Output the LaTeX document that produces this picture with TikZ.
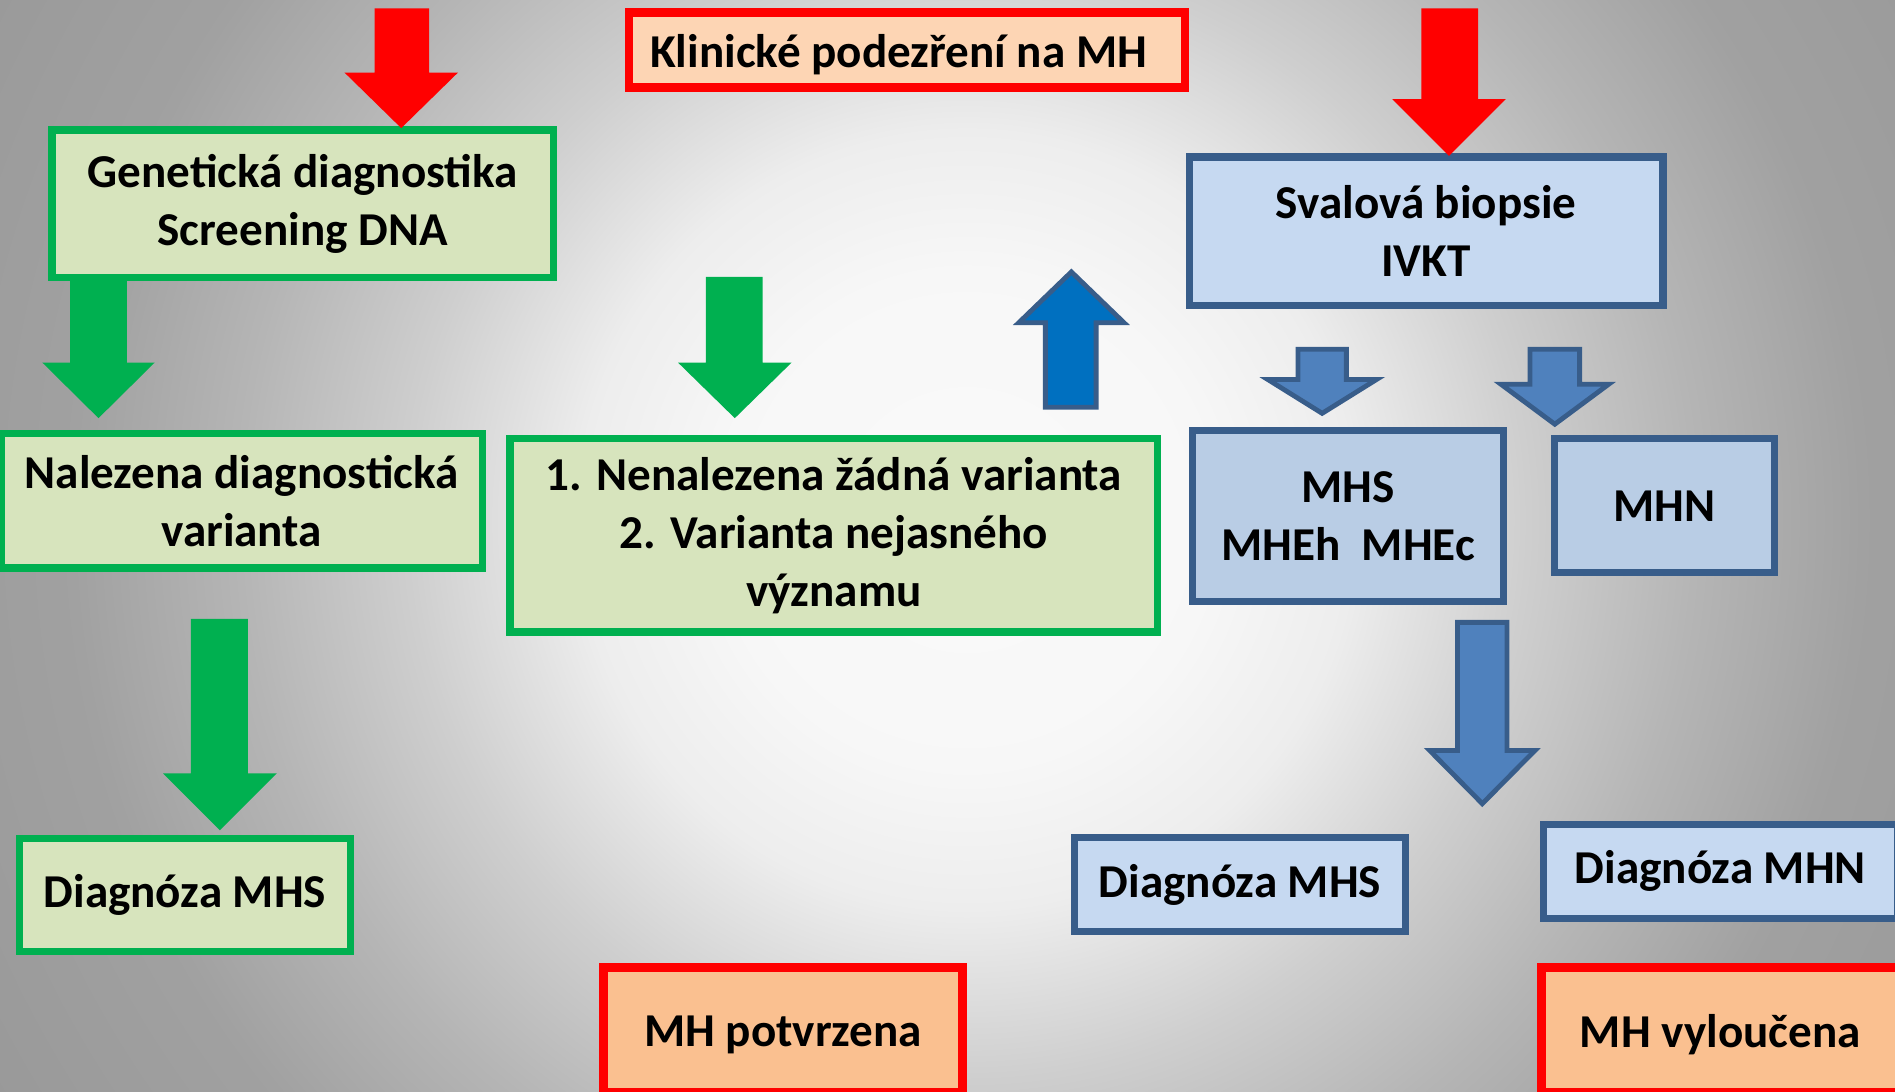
\documentclass[tikz,border=0pt]{standalone}
\usepackage{fontspec}
\setmainfont{Carlito}
\definecolor{ggreen}{HTML}{00B050}
\definecolor{gfill}{HTML}{D7E4BD}
\definecolor{rred}{HTML}{FF0000}
\definecolor{pfillA}{HTML}{FDD5B4}
\definecolor{pfillB}{HTML}{FAC090}
\definecolor{bline}{HTML}{385D8A}
\definecolor{bfillA}{HTML}{C6D9F1}
\definecolor{bfillB}{HTML}{B9CDE5}
\definecolor{barrowc}{HTML}{4F81BD}
\definecolor{uparrowc}{HTML}{0070C0}
\pgfdeclareradialshading{bgshade}{\pgfpoint{0bp}{0bp}}{rgb(0bp)=(0.98,0.98,0.98); rgb(100bp)=(0.97,0.97,0.97); rgb(160bp)=(0.93,0.93,0.93); rgb(230bp)=(0.81,0.81,0.81); rgb(300bp)=(0.71,0.71,0.71); rgb(370bp)=(0.63,0.63,0.63); rgb(500bp)=(0.59,0.59,0.59)}
\newcommand{\blockarr}[8]{%
  \path[#1] (#2,#4) -- (#3,#4) -- (#3,#5) -- (#7,#5) -- ({(#6+#7)/2},#8) -- (#6,#5) -- (#2,#5) -- cycle;}
\newcommand{\lowtxt}[2]{\raisebox{-#1}[\height][\depth]{#2}}
\tikzset{
  box/.style={draw, line width=3pt, align=center, inner sep=0pt, text=black,
    font=\fontsize{19.5}{24}\selectfont\bfseries},
  gbox/.style={box, draw=ggreen, fill=gfill},
  rboxA/.style={box, line width=3.5pt, draw=rred, fill=pfillA},
  rboxB/.style={box, line width=3.5pt, draw=rred, fill=pfillB},
  bboxA/.style={box, draw=bline, fill=bfillA},
  bboxB/.style={box, draw=bline, fill=bfillB},
  redarr/.style={fill=rred},
  greenarr/.style={fill=ggreen},
  bluearr/.style={fill=barrowc, draw=bline, line width=2pt, line join=miter},
  uparr/.style={fill=uparrowc, draw=bline, line width=2pt, line join=miter}
}
\begin{document}
\begin{tikzpicture}[x=0.5pt,y=-0.5pt]
\useasboundingbox (0,0) rectangle (1568,903);
\begin{scope}
  \clip (0,0) rectangle (1568,903);
  \node[inner sep=0pt, outer sep=0pt] (bg) at (800,430) {\pgfuseshading{bgshade}};
\end{scope}

% boxes
\node[gbox, minimum width=207.5pt, minimum height=61pt] (gen) at (250.5,168.5) {Genetická diagnostika\\Screening DNA};
\node[rboxA, minimum width=230pt, minimum height=31pt] (klin) at (750.5,41.5) {\lowtxt{2pt}{Klinické podezření na MH}\hspace*{7pt}};
\node[bboxA, minimum width=196pt, minimum height=61.5pt] (sval) at (1180,191.5) {Svalová biopsie\\IVKT};
\node[bboxB, minimum width=128.5pt, minimum height=71pt] (mhs) at (1115.5,427) {MHS\\MHEh\ \ MHEc};
\node[bboxB, minimum width=91pt, minimum height=55.5pt] (mhn) at (1377,418.5) {MHN};
\node[gbox, minimum width=199pt, minimum height=55.5pt] (nal) at (200,414.5) {Nalezena diagnostická\\varianta};
\node[gbox, minimum width=268pt, minimum height=80pt] (nen) at (690,443) {1. Nenalezena žádná varianta\\2. Varianta nejasného\\významu};
\node[gbox, minimum width=137pt, minimum height=46.5pt] (dgg) at (153,740.5) {Diagnóza MHS};
\node[rboxB, minimum width=148.5pt, minimum height=51.5pt] (potv) at (648,852) {\lowtxt{2pt}{MH potvrzena}};
\node[bboxA, minimum width=137pt, minimum height=39pt] (dgb) at (1026,732) {Diagnóza MHS};
\node[bboxA, minimum width=146.5pt, minimum height=39pt] (dgn) at (1423.5,721) {Diagnóza MHN};
\node[rboxB, minimum width=148pt, minimum height=51.5pt] (vylo) at (1423.5,852) {\lowtxt{2pt}{MH vyloučena}};

% block arrows
\blockarr{redarr}{310}{355}{7}{60}{285}{379}{106}
\blockarr{redarr}{1176}{1223}{7}{82}{1152}{1246}{129}
\blockarr{greenarr}{58}{105}{231}{300}{35}{128}{346}
\blockarr{greenarr}{584}{631}{229}{300}{561}{655}{346}
\blockarr{greenarr}{158}{205}{512}{640}{135}{229}{687}
\blockarr{uparr}{865}{907}{337}{267}{843}{930}{225}
\blockarr{bluearr}{1074}{1114}{289}{314}{1049}{1139}{342}
\blockarr{bluearr}{1266}{1307}{289}{318}{1242}{1331}{351}
\blockarr{bluearr}{1206}{1247}{515}{621}{1183}{1270}{665}
\end{tikzpicture}
\end{document}
